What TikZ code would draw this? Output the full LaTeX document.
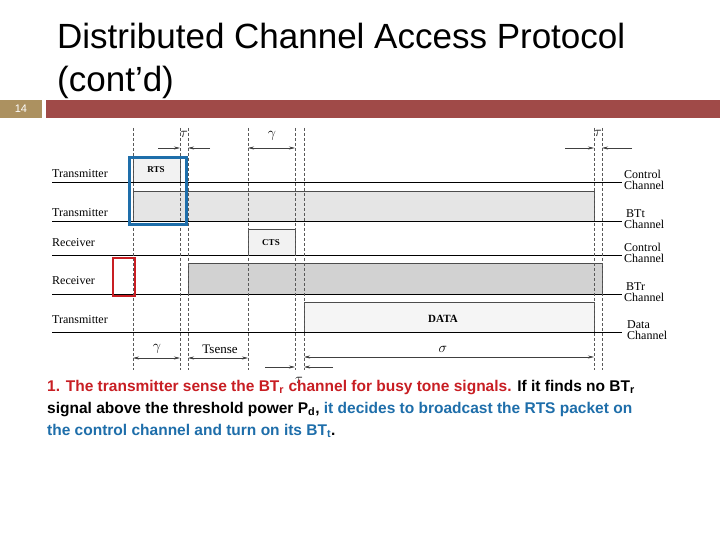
\documentclass[tikz,border=0pt]{standalone}
\usepackage{fontspec}
\usetikzlibrary{arrows.meta}
\setmainfont{Liberation Sans}
\newfontfamily\serif{Liberation Serif}
\begin{document}
\begin{tikzpicture}[x=1pt,y=-1pt,
  lbl/.style={font=\serif\fontsize{12}{12}\selectfont,anchor=base west,inner sep=0},
  rl/.style={font=\serif\fontsize{12}{11}\selectfont,align=left,anchor=west,inner sep=0},
  dsh/.style={densely dashed,gray!70!black,line width=0.4pt},
  dim/.style={-{Stealth[length=6pt,width=3pt]},gray!50!black,line width=0.5pt},
  dd/.style={dim,{Stealth[length=6pt,width=3pt]}-{Stealth[length=6pt,width=3pt]}},
  box/.style={draw=gray!60!black,line width=0.5pt},
  gk/.style={font=\serif\fontsize{14}{14}\selectfont,inner sep=0}]
\useasboundingbox (0,0) rectangle (720,540);
\definecolor{tan}{RGB}{172,145,96}
\definecolor{bar}{RGB}{160,74,72}
\definecolor{rd}{RGB}{200,30,35}
\definecolor{bl}{RGB}{30,110,170}
\node[anchor=base west,font=\fontsize{35}{35}\selectfont,inner sep=0] (t1) at (57,49) {Distributed Channel Access Protocol};
\node[anchor=base west,font=\fontsize{35}{35}\selectfont,inner sep=0] (t2) at (57,92) {(cont’d)};
\fill[tan] (0,100) rectangle (42,118);
\fill[bar] (46,100) rectangle (720,118);
\node[white,font=\fontsize{11}{11}\selectfont] (pg) at (21,109) {14};
% bars
\fill[gray!10,box] (133,182) -- (133,157) -- (180,157) -- (180,182);
\node[font=\serif\bfseries\fontsize{9}{9}\selectfont] (rts) at (156,170) {RTS};
\fill[gray!20] (133,191) rectangle (594,221);
\draw[box] (133,221) -- (133,191) -- (594,191) -- (594,221);
\fill[gray!10,box] (248,255) -- (248,229) -- (295,229) -- (295,255);
\node[font=\serif\bfseries\fontsize{9}{9}\selectfont] (cts) at (271,243) {CTS};
\fill[gray!35] (188,263) rectangle (602,294);
\draw[box] (188,294) -- (188,263) -- (602,263) -- (602,294);
\fill[gray!8] (304,302) rectangle (594,332);
\draw[box] (304,332) -- (304,302) -- (594,302) -- (594,332);
\node[font=\serif\bfseries\fontsize{11}{11}\selectfont] (data) at (443,319) {DATA};
% channel lines
\foreach \y in {182,221,255,294,332} \draw[line width=0.6pt] (52,\y) -- (622,\y);
% vertical dashed
\foreach \x in {133,180,188,248,295,304,594,602} \draw[dsh] (\x,128) -- (\x,370);
% left labels
\node[lbl] (l1) at (52,178) {Transmitter};
\node[lbl] (l2) at (52,216) {Transmitter};
\node[lbl] (l3) at (52,246) {Receiver};
\node[lbl] (l4) at (52,284) {Receiver};
\node[lbl] (l5) at (52,323) {Transmitter};
% right labels
\node[rl] (r1) at (624,180) {Control\\Channel};
\node[rl] (r2) at (624,219) {\,BTt\\Channel};
\node[rl] (r3) at (624,253) {Control\\Channel};
\node[rl] (r4) at (624,292) {\,BTr\\Channel};
\node[rl] (r5) at (627,330) {Data\\Channel};
% top dims
\node[gk] (tau1) at (184,134) {$\tau$};
\draw[dim] (158,148) -- (180,148); \draw[dim] (210,148) -- (188,148);
\node[gk] (gam1) at (272,136) {$\gamma$};
\draw[dd] (248,148) -- (295,148);
\node[gk] (tau2) at (598,133) {$\tau$};
\draw[dim] (565,148) -- (594,148); \draw[dim] (632,148) -- (602,148);
% bottom dims
\draw[dd] (133,358) -- (180,358);
\node[gk] (gam2) at (157,349) {$\gamma$};
\draw[dd] (188,358) -- (248,358);
\node[font=\serif\fontsize{13}{13}\selectfont,inner sep=0] (ts) at (220,349) {Tsense};
\draw[dd] (304,357) -- (594,357);
\node[gk] (sig) at (443,349) {$\sigma$};
\draw[dim] (265,367) -- (295,367); \draw[dim] (333,367) -- (304,367);
\node[gk] (tau3) at (299,380) {$\tau$};
% highlight boxes
\draw[bl,line width=3pt] (129,158) rectangle (186,225);
\draw[rd,line width=2.5pt] (113,258) rectangle (135,296);
% text
\node[lbl,font=\bfseries\fontsize{15.5}{16}\selectfont] (x1) at (47,391) {\textcolor{rd}{1. The transmitter sense the BT\textsubscript{r} channel for busy tone signals.} If it finds no BT\textsubscript{r}};
\node[lbl,font=\bfseries\fontsize{15.5}{16}\selectfont] (x2) at (47,413) {signal above the threshold power P\textsubscript{d}, \textcolor{bl}{it decides to broadcast the RTS packet on}};
\node[lbl,font=\bfseries\fontsize{15.5}{16}\selectfont] (x3) at (47,435) {\textcolor{bl}{the control channel and turn on its BT\textsubscript{t}}.};
\end{tikzpicture}
\end{document}
